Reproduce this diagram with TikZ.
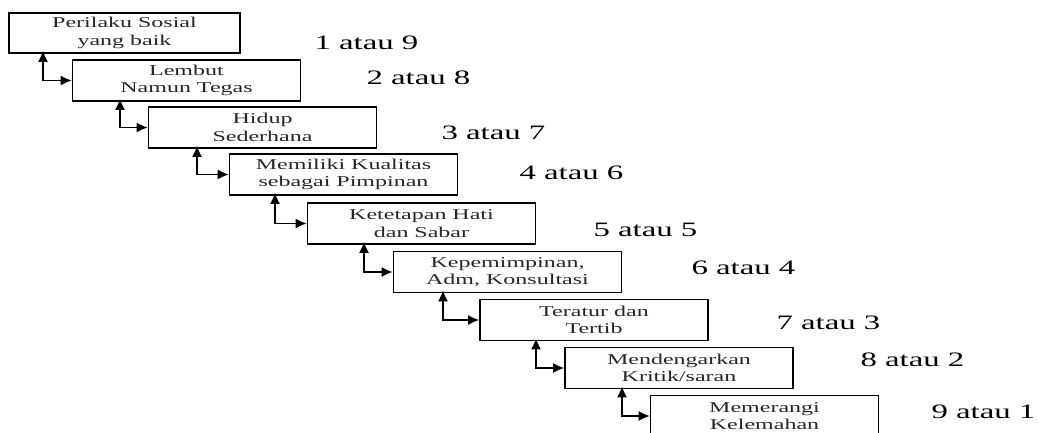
\documentclass[tikz,border=0pt]{standalone}
\usepackage{fontspec}
\setmainfont[FakeStretch=1.6]{Liberation Serif}
\newfontfamily\rankfont[FakeStretch=1.6]{Liberation Serif}
\usetikzlibrary{arrows.meta}
\begin{document}
\begin{tikzpicture}[x=1pt,y=-1pt,
  stage/.style={draw, line width=1.6pt, minimum width=228pt, minimum height=41pt,
    inner sep=0pt, align=center, font=\fontsize{15}{17.5}\selectfont, text=black!85},
  rank/.style={anchor=west, font=\rankfont\fontsize{20.5}{22}\selectfont},
  link/.style={line width=1.6pt, {Latex[length=11pt,width=10pt]}-{Latex[length=11pt,width=10pt]}}]
\useasboundingbox (0,0) rectangle (1039,433);
\clip (0,0) rectangle (1039,433);
\node[stage, minimum width=231pt, minimum height=40pt] (b1) at (124.5,33) {Perilaku Sosial\\yang baik};
\node[stage] (b2) at (186.5,80.5) {Lembut\\Namun Tegas};
\node[stage] (b3) at (262.5,127.5) {Hidup\\Sederhana};
\node[stage] (b4) at (343.5,174.5) {Memiliki Kualitas\\sebagai Pimpinan};
\node[stage] (b5) at (421.5,223.5) {Ketetapan Hati\\dan Sabar};
\node[stage] (b6) at (507.5,272) {Kepemimpinan,\\Adm, Konsultasi};
\node[stage] (b7) at (594,320) {Teratur dan\\Tertib};
\node[stage] (b8) at (679,368) {Mendengarkan\\Kritik/saran};
\node[stage] (b9) at (764.5,416) {Memerangi\\Kelemahan};
\node[rank] (r1) at (311,43) {1 atau 9};
\node[rank] (r2) at (363,78) {2 atau 8};
\node[rank] (r3) at (438,133) {3 atau 7};
\node[rank] (r4) at (516,173) {4 atau 6};
\node[rank] (r5) at (590,230) {5 atau 5};
\node[rank] (r6) at (688,268) {6 atau 4};
\node[rank] (r7) at (773,323) {7 atau 3};
\node[rank] (r8) at (857,360) {8 atau 2};
\node[rank] (r9) at (928,412) {9 atau 1};
\draw[link] ([yshift=3pt]b1.south -| 43,0) |- (b2.west);
\draw[link] ([yshift=3pt]b2.south -| 120,0) |- (b3.west);
\draw[link] ([yshift=3pt]b3.south -| 197,0) |- (b4.west);
\draw[link] ([yshift=3pt]b4.south -| 275,0) |- (b5.west);
\draw[link] ([yshift=3pt]b5.south -| 364,0) |- (b6.west);
\draw[link] ([yshift=3pt]b6.south -| 443,0) |- (b7.west);
\draw[link] ([yshift=3pt]b7.south -| 536,0) |- (b8.west);
\draw[link] ([yshift=3pt]b8.south -| 622,0) |- (b9.west);
\end{tikzpicture}
\end{document}
